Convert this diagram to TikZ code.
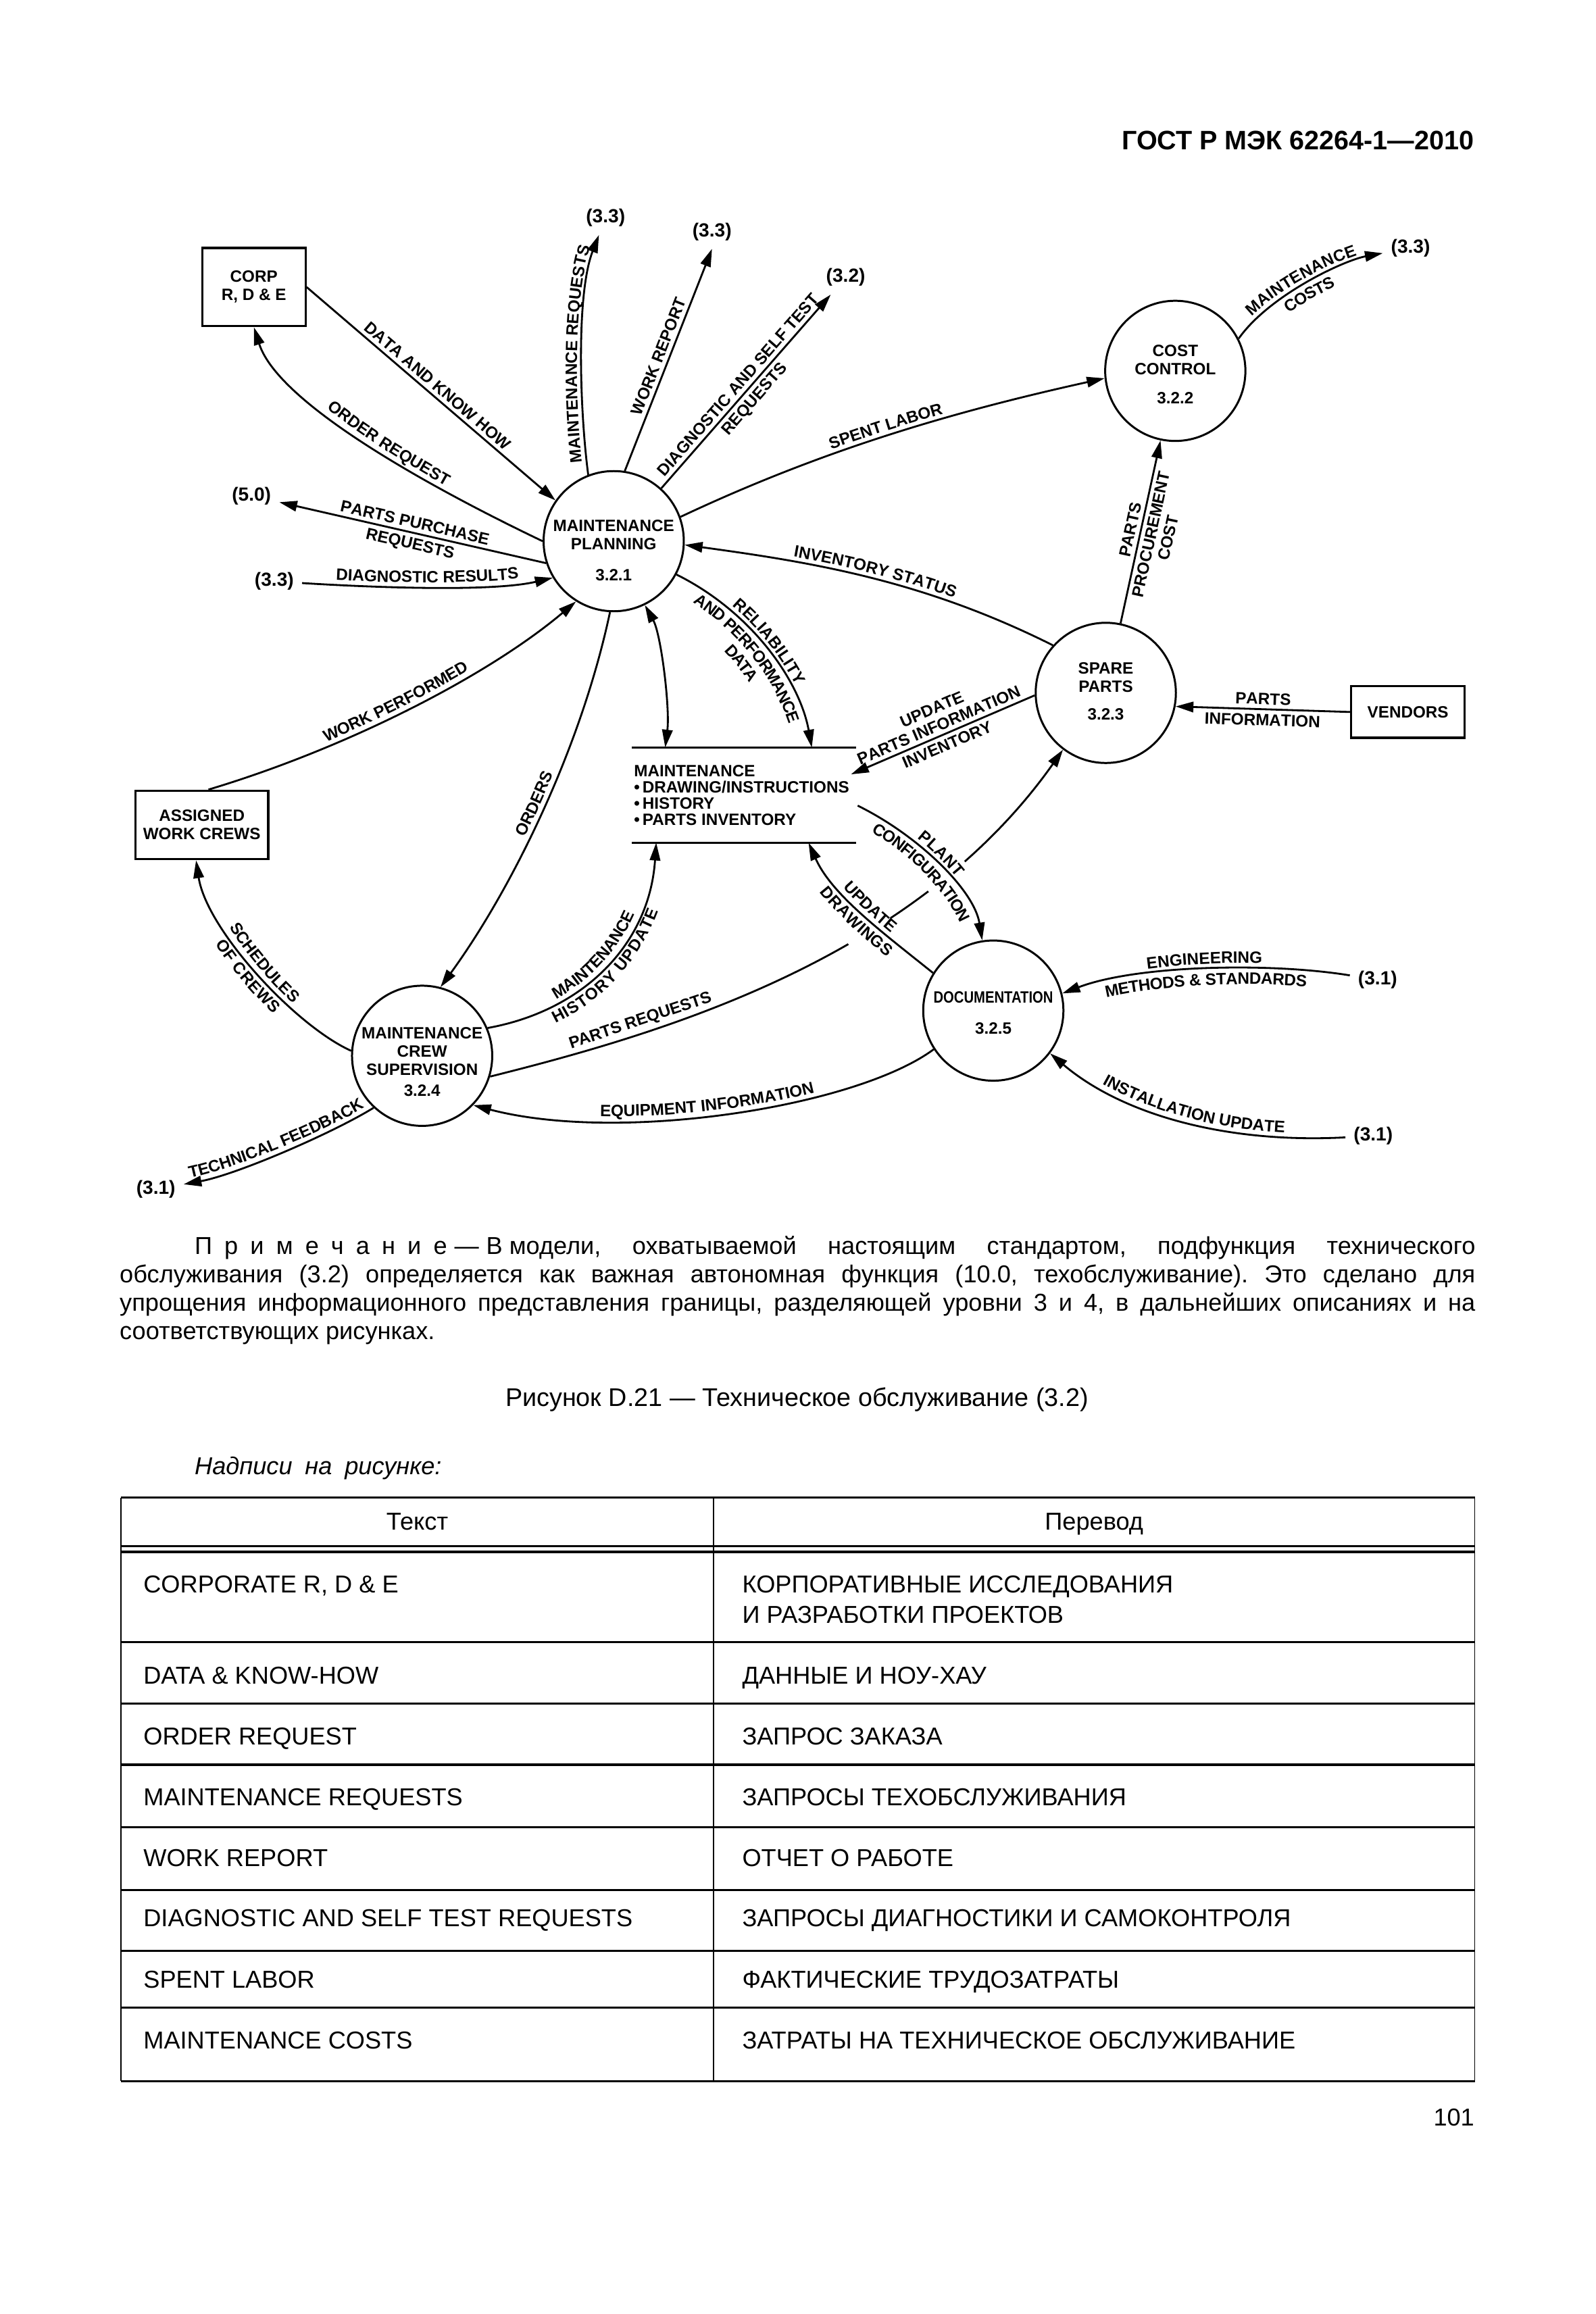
\documentclass[tikz,border=0pt]{standalone}
\usepackage{fontspec}
\setmainfont{Liberation Sans}
\usepackage{graphicx}
\usetikzlibrary{arrows.meta,calc,decorations.text}
\newlength\pxu
\setlength\pxu{0.2185mm}
\newlength\notew
\setlength\notew{918.4\pxu}
\newcommand\lblfont{\fontsize{6.9}{7.4}\selectfont\bfseries}
\newcommand\procfont{\fontsize{6.9}{7.7}\selectfont\bfseries}
\newcommand\reffont{\fontsize{8}{9}\selectfont\bfseries}
\newcommand\bodyfont{\fontsize{10.3}{12}\selectfont\frenchspacing}
\newcommand\capfont{\fontsize{10.75}{12}\selectfont}
\tikzset{
  flow/.style={line width=0.8pt, -{Triangle[length=7.5pt,width=4.4pt]}},
  biflow/.style={line width=0.8pt, {Triangle[length=7.5pt,width=4.4pt]}-{Triangle[length=7.5pt,width=4.4pt]}},
  proc/.style={circle, draw, line width=0.85pt, minimum size=95\pxu, inner sep=0pt},
  ptext/.style={font=\procfont, align=center, anchor=north, inner sep=0pt},
  extbox/.style={draw, line width=0.9pt, font=\procfont, align=center, inner sep=0pt},
  reflbl/.style={font=\reffont, inner sep=1pt, outer sep=2.5pt},
  lbl/.style={font=\lblfont, inner sep=1.6pt},
  lab/.style 2 args={postaction={decorate, decoration={text along path, text={|\lblfont|#1}, text align=center, raise=#2}}},
  hrule/.style={line width=0.9pt},
  vrule/.style={line width=0.5pt},
  body/.style={font=\bodyfont, inner sep=0pt, anchor=base west},
}
\begin{document}
\begin{tikzpicture}[x=0.2185mm, y=-0.2185mm]
\useasboundingbox (0,0) rectangle (1081,1568);
\fill[white] (0,0) rectangle (1081,1568);

\node[anchor=base east, inner sep=0pt, font=\fontsize{11.25}{13}\selectfont\bfseries] (hdr) at (999,101.6) {ГОСТ Р МЭК 62264-1—2010};

% processes
\node[proc] (mp) at (415.8,366.7) {};
\node[proc] (cc) at (796.3,251.3) {};
\node[proc] (sp) at (749.2,469.5) {};
\node[proc] (mcs) at (286,715.4) {};
\node[proc] (doc) at (673,684.8) {};
\node[ptext] (mpt) at (415.8,352) {MAINTENANCE\\PLANNING\\[5.3pt]3.2.1};
\node[ptext] (cct) at (796.3,233.2) {COST\\CONTROL\\[4.7pt]3.2.2};
\node[ptext] (spt) at (749.2,448.6) {SPARE\\PARTS\\[3.9pt]3.2.3};
\node[ptext] (mcst) at (286,695.6) {MAINTENANCE\\CREW\\SUPERVISION\\[1.3pt]3.2.4};
\node[ptext] (doct) at (673,671.7) {\scalebox{0.835}[1]{DOCUMENTATION}\\[5.2pt]3.2.5};

% external boxes
\node[extbox, minimum width=70\pxu, minimum height=53\pxu] (corp) at (172,194.5) {CORP\\R, D \& E};
\node[extbox, minimum width=90\pxu, minimum height=46.5\pxu] (awc) at (136.75,559) {ASSIGNED\\WORK CREWS};
\node[extbox, minimum width=77\pxu, minimum height=35\pxu] (vend) at (953.9,482.45) {VENDORS};

% data store
\node[minimum width=152\pxu, minimum height=64.5\pxu, inner sep=0pt, outer sep=0pt] (store) at (504,538.75) {};
\draw[line width=1pt] (store.north west) -- (store.north east);
\draw[line width=1pt] (store.south west) -- (store.south east);
\node[font=\fontsize{6.9}{6.8}\selectfont\bfseries, align=left, anchor=north west, inner sep=0pt] (storet) at (429.3,518.4) {MAINTENANCE\\•\,DRAWING/INSTRUCTIONS\\•\,HISTORY\\•\,PARTS INVENTORY};

% external references
\node[reflbl] (r1) at (410.3,147.6) {(3.3)};
\node[reflbl] (r2) at (482.4,157) {(3.3)};
\node[reflbl] (r3) at (573,188) {(3.2)};
\node[reflbl] (r4) at (170.4,336) {(5.0)};
\node[reflbl] (r5) at (185.8,393.9) {(3.3)};
\node[reflbl] (r6) at (955.7,168.1) {(3.3)};
\node[reflbl] (r7) at (105.6,805.9) {(3.1)};
\node[reflbl] (r8) at (933.4,664) {(3.1)};
\node[reflbl] (r9) at (930.4,769.7) {(3.1)};

% parts requests (passes beneath other flows)
\draw[flow] (mcs.-17.2) .. controls (450,700) and (620,650) .. (sp.233.4)
  coordinate[pos=0.60] (g1a) coordinate[pos=0.67] (g1b)
  coordinate[pos=0.735] (g2a) coordinate[pos=0.80] (g2b)
  node[lbl, sloped, above, pos=0.27] {PARTS REQUESTS};
\draw[white, line width=3.2pt] (g1a) -- (g1b);
\draw[white, line width=3.2pt] (g2a) -- (g2b);

% flows
\draw[flow, lab={DATA AND KNOW HOW}{2pt}] (corp.east) -- (mp.145);
\draw[flow] (mp.180) .. controls (314.7,341.4) and (190,278) .. (corp.south);
\path[lab={ORDER REQUEST}{2pt}] (corp.south) .. controls (190,278) and (314.7,341.4) .. (mp.180);
\draw[flow, lab={MAINTENANCE REQUESTS}{2pt}] (mp.111) .. controls (393,280) and (390,200) .. (r1);
\draw[flow, lab={WORK REPORT}{2pt}] (mp.81) -- (r2.south);
\draw[flow, lab={DIAGNOSTIC AND SELF TEST}{2pt}, lab={REQUESTS}{-6.9pt}] (mp.48) -- (r3);
\draw[flow, lab={SPENT LABOR}{2pt}] (mp.20) .. controls (560.4,303.4) and (649.6,278.2) .. (cc.186);
\draw[flow] (sp.138.5) .. controls (625,393) and (550,381) .. (mp.-3);
\path[lab={INVENTORY STATUS}{2pt}] (mp.-3) .. controls (550,381) and (625,393) .. (sp.138.5);
\draw[flow, lab={RELIABILITY}{2pt}, lab={AND PERFORMANCE}{-6.9pt}, lab={DATA}{-14.3pt}] (mp.-28) .. controls (510,415) and (542,462) .. ($(store.north west)+(122,0)$);
\draw[biflow] (mp.-64.5) .. controls (448,430) and (454,480) .. ($(store.north west)+(22.7,0)$);
\draw[flow] (mp.-93.6) .. controls (393,510) and (345,605) .. (mcs.75.5);
\path[lab={ORDERS}{2pt}] (mcs.75.5) .. controls (345,605) and (393,510) .. (mp.-93.6);
\draw[flow, lab={WORK PERFORMED}{2pt}] ($(awc.north)+(4.5,0)$) .. controls (235.7,506.7) and (330.9,457.7) .. (mp.-122);
\draw[flow] (mp.198) -- (r4);
\path[lab={PARTS PURCHASE}{2pt}, lab={REQUESTS}{-6.9pt}] (r4) -- (mp.198);
\draw[flow, lab={DIAGNOSTIC RESULTS}{2pt}] (r5) .. controls (235,397) and (330,402) .. (mp.211);
\draw[flow, lab={MAINTENANCE}{2pt}, lab={COSTS}{-6.9pt}] (cc.27.4) .. controls (860,200) and (910.5,176.4) .. (r6);
\draw[flow, lab={PARTS}{2pt}, lab={PROCUREMENT}{-6.9pt}, lab={COST}{-14.3pt}] (sp.78.5) -- (cc.258);
\draw[flow] (vend.west) -- (sp.-11.3);
\path[lab={PARTS}{2pt}, lab={INFORMATION}{-6.9pt}] (sp.-11.3) -- (vend.west);
\draw[flow] (sp.182.5) -- ($(store.north east)+(-3.4,18.2)$);
\path[lab={UPDATE}{9.4pt}, lab={PARTS INFORMATION}{2pt}, lab={INVENTORY}{-6.9pt}] ($(store.north east)+(-3.4,18.2)$) -- (sp.182.5);
\draw[flow, lab={PLANT}{2pt}, lab={CONFIGURATION}{-6.9pt}] ($(store.north east)+(1.1,39.4)$) .. controls (622,566) and (660,603) .. (doc.99.8);
\draw[flow] (doc.148) .. controls (597.7,631.6) and (563.6,606.4) .. ($(store.south west)+(119.8,0)$);
\path[lab={UPDATE}{2pt}, lab={DRAWINGS}{-6.9pt}] ($(store.south west)+(119.8,0)$) .. controls (563.6,606.4) and (597.7,631.6) .. (doc.148);
\draw[flow, lab={MAINTENANCE}{2pt}, lab={HISTORY UPDATE}{-6.9pt}] (mcs.23.6) .. controls (395,685) and (440,640) .. ($(store.south west)+(16.6,0)$);
\draw[flow] (doc.213) .. controls (580,750) and (420,775) .. (mcs.-44);
\path[lab={EQUIPMENT INFORMATION}{2pt}] (mcs.-44) .. controls (420,775) and (580,750) .. (doc.213);
\draw[flow] (mcs.227.4) .. controls (225,768) and (160,796) .. (r7);
\path[lab={TECHNICAL FEEDBACK}{2pt}] (r7) .. controls (160,796) and (225,768) .. (mcs.227.4);
\draw[flow] (mcs.176.5) .. controls (200,695) and (140,630) .. ($(awc.south west)+(41.8,0)$);
\path[lab={SCHEDULES}{2pt}, lab={OF CREWS}{-6.9pt}] ($(awc.south west)+(41.8,0)$) .. controls (140,630) and (200,695) .. (mcs.176.5);
\draw[flow] (r8) .. controls (860,652) and (770,654) .. (doc.14.7);
\path[lab={ENGINEERING}{2pt}, lab={METHODS {\&} STANDARDS}{-6.9pt}] (doc.14.7) .. controls (770,654) and (860,652) .. (r8);
\draw[flow] (r9) .. controls (830,775) and (760,755) .. (doc.-37.3);
\path[lab={INSTALLATION UPDATE}{2pt}] (doc.-37.3) .. controls (760,755) and (830,775) .. (r9);

% note text
\node[body] (n1) at (80.8,849.8) {\makebox[\notew][s]{\hspace*{50.8\pxu}П\kern.5em р\kern.5em и\kern.5em м\kern.5em е\kern.5em ч\kern.5em а\kern.5em н\kern.5em и\kern.5em е\kern.3em—\kern.3em В\kern.28em модели, охватываемой настоящим стандартом, подфункция технического}};
\node[body] (n2) at (80.8,869.2) {\makebox[\notew][s]{обслуживания (3.2) определяется как важная автономная функция (10.0, техобслуживание). Это сделано для}};
\node[body] (n3) at (80.8,888.4) {\makebox[\notew][s]{упрощения информационного представления границы, разделяющей уровни 3 и 4, в дальнейших описаниях и на}};
\node[body] (n4) at (80.8,907.8) {соответствующих рисунках.};
\node[anchor=base, inner sep=0pt, font=\capfont] (cap) at (540,952.8) {Рисунок D.21 — Техническое обслуживание (3.2)};
\node[body, font=\bodyfont\itshape] (nad) at (131.6,999.3) {Надписи\hspace{0.52em}на\hspace{0.52em}рисунке:};

% table
\foreach \yy in {1014.8,1047.7,1051.6,1112.7,1154.2,1195.8,1238.2,1280.6,1321.8,1360.5,1410.2}
  \draw[hrule] (82,\yy) -- (999.2,\yy);
\draw[vrule] (82,1014.8) -- (82,1410.2);
\draw[vrule] (483.4,1014.8) -- (483.4,1410.2);
\draw[vrule] (999.2,1014.8) -- (999.2,1410.2);
\node[body, anchor=base] (th1) at (282.7,1036.7) {Текст};
\node[body, anchor=base] (th2) at (741.3,1036.7) {Перевод};
\node[body] (a1) at (96.9,1079.4) {CORPORATE R, D \& E};
\node[body] (b1) at (502.6,1079.4) {КОРПОРАТИВНЫЕ ИССЛЕДОВАНИЯ};
\node[body] (b1x) at (502.6,1100) {И РАЗРАБОТКИ ПРОЕКТОВ};
\node[body] (a2) at (96.9,1141.2) {DATA \& KNOW-HOW};
\node[body] (b2) at (502.6,1141.2) {ДАННЫЕ И НОУ-ХАУ};
\node[body] (a3) at (96.9,1182.4) {ORDER REQUEST};
\node[body] (b3) at (502.6,1182.4) {ЗАПРОС ЗАКАЗА};
\node[body] (a4) at (96.9,1223.4) {MAINTENANCE REQUESTS};
\node[body] (b4) at (502.6,1223.4) {ЗАПРОСЫ ТЕХОБСЛУЖИВАНИЯ};
\node[body] (a5) at (96.9,1264.6) {WORK REPORT};
\node[body] (b5) at (502.6,1264.6) {ОТЧЕТ О РАБОТЕ};
\node[body] (a6) at (96.9,1305.5) {DIAGNOSTIC AND SELF TEST REQUESTS};
\node[body] (b6) at (502.6,1305.5) {ЗАПРОСЫ ДИАГНОСТИКИ И САМОКОНТРОЛЯ};
\node[body] (a7) at (96.9,1347.1) {SPENT LABOR};
\node[body] (b7) at (502.6,1347.1) {ФАКТИЧЕСКИЕ ТРУДОЗАТРАТЫ};
\node[body] (a8) at (96.9,1388.5) {MAINTENANCE COSTS};
\node[body] (b8) at (502.6,1388.5) {ЗАТРАТЫ НА ТЕХНИЧЕСКОЕ ОБСЛУЖИВАНИЕ};
\node[body, anchor=base east] (pg) at (999.2,1440.3) {101};
\end{tikzpicture}
\end{document}
